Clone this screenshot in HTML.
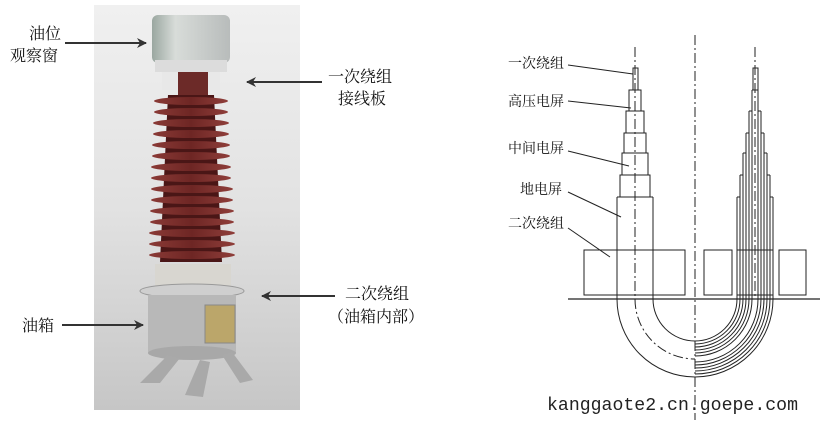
<!DOCTYPE html>
<html><head><meta charset="utf-8"><style>
body{margin:0;background:#fff;}
svg{display:block;}
</style></head><body>
<svg width="831" height="422" viewBox="0 0 831 422" xmlns="http://www.w3.org/2000/svg" font-family="'Liberation Serif','Noto Serif CJK SC',serif">
<defs>
<linearGradient id="bg" x1="0" y1="0" x2="0" y2="1">
<stop offset="0" stop-color="#f0f0f0"/><stop offset="0.5" stop-color="#e2e2e2"/><stop offset="1" stop-color="#c6c6c6"/>
</linearGradient>
<linearGradient id="shed" x1="0" y1="0" x2="1" y2="0">
<stop offset="0" stop-color="#8a3a36"/><stop offset="0.5" stop-color="#6e2624"/><stop offset="1" stop-color="#8f3e3a"/>
</linearGradient>
<linearGradient id="metal" x1="0" y1="0" x2="1" y2="0">
<stop offset="0" stop-color="#9aa7a0"/><stop offset="0.3" stop-color="#d8dcd9"/><stop offset="1" stop-color="#b8bcbb"/>
</linearGradient>
<marker id="ah" markerWidth="10" markerHeight="10" refX="9" refY="5" orient="auto" markerUnits="userSpaceOnUse"><path d="M0,0 L10,5 L0,10 L3,5 z" fill="#333"/></marker>
</defs>
<rect x="94" y="5" width="206" height="405" fill="url(#bg)"/>
<rect x="152" y="15" width="78" height="48" rx="6" fill="url(#metal)"/>
<rect x="155" y="60" width="72" height="12" fill="#dcdcdc"/>
<rect x="162" y="72" width="58" height="18" fill="#e8e8e8"/>
<rect x="178" y="72" width="30" height="30" fill="#6c2a28"/>
<path d="M168,95 L214,95 L222,262 L160,262 Z" fill="#4a1616"/>
<g fill="url(#shed)">
<ellipse cx="191" cy="101" rx="37" ry="4"/>
<ellipse cx="191" cy="112" rx="37" ry="4"/>
<ellipse cx="191" cy="123" rx="38" ry="4"/>
<ellipse cx="191" cy="134" rx="38" ry="4"/>
<ellipse cx="191" cy="145" rx="39" ry="4"/>
<ellipse cx="191" cy="156" rx="39" ry="4"/>
<ellipse cx="191" cy="167" rx="40" ry="4"/>
<ellipse cx="191" cy="178" rx="40" ry="4"/>
<ellipse cx="192" cy="189" rx="41" ry="4"/>
<ellipse cx="192" cy="200" rx="41" ry="4"/>
<ellipse cx="192" cy="211" rx="42" ry="4"/>
<ellipse cx="192" cy="222" rx="42" ry="4"/>
<ellipse cx="192" cy="233" rx="43" ry="4"/>
<ellipse cx="192" cy="244" rx="43" ry="4"/>
<ellipse cx="192" cy="255" rx="43" ry="4"/>
</g>
<rect x="155" y="264" width="76" height="22" fill="#d8d6d0"/>
<ellipse cx="192" cy="291" rx="52" ry="7" fill="#cfcfcf" stroke="#999"/>
<rect x="148" y="295" width="88" height="58" fill="#b8b8b8"/>
<ellipse cx="192" cy="353" rx="44" ry="7" fill="#a8a8a8"/>
<rect x="205" y="305" width="30" height="38" fill="#bba66a" stroke="#888"/>
<path d="M168,355 L140,383 L160,383 L180,358 Z M200,360 L185,395 L203,397 L210,362 Z M222,355 L240,383 L253,380 L232,352 Z" fill="#a9a9a9"/>
<g font-size="16" fill="#111">
<text x="29" y="39">油位</text>
<text x="10" y="61">观察窗</text>
<text x="328" y="82">一次绕组</text>
<text x="338" y="104">接线板</text>
<text x="345" y="299">二次绕组</text>
<text x="328" y="322">（油箱内部）</text>
<text x="22" y="331">油箱</text>
</g>
<g stroke="#333" stroke-width="2" marker-end="url(#ah)">
<line x1="65" y1="43" x2="146" y2="43"/>
<line x1="322" y1="82" x2="247" y2="82"/>
<line x1="335" y1="296" x2="262" y2="296"/>
<line x1="62" y1="325" x2="143" y2="325"/>
</g>
<g stroke="#222" stroke-width="1" fill="none">
<line x1="568" y1="299" x2="820" y2="299" stroke-width="1.3"/>
<line x1="695" y1="35" x2="695" y2="420" stroke-dasharray="10,3,2,3"/>
<line x1="635" y1="47" x2="635" y2="299" stroke-dasharray="10,3,2,3"/>
<line x1="755" y1="47" x2="755" y2="299" stroke-dasharray="10,3,2,3"/>
<rect x="633" y="68" width="5" height="22"/>
<rect x="629" y="90" width="12" height="21"/>
<rect x="626" y="111" width="18" height="22"/>
<rect x="624" y="133" width="22" height="20"/>
<rect x="622" y="153" width="26" height="22"/>
<rect x="620" y="175" width="30" height="22"/>
<path d="M617,197 H653 M617,197 V299 M653,197 V299"/>
<path d="M617,299 A78,78 0 0 0 695,377"/>
<path d="M653,299 A42,42 0 0 0 695,341"/>
<path d="M635,299 A60,60 0 0 0 695,359" stroke-dasharray="10,3,2,3"/>
<rect x="753" y="68" width="5" height="22"/>
<path d="M752,90 H758 M752,90 V299 M758,90 V299"/>
<path d="M749,111 V299 M761,111 V299 M746,133 V299 M764,133 V299 M743,153 V299 M767,153 V299 M740,175 V299 M770,175 V299 M737,197 V299 M773,197 V299"/>
<path d="M752,90 H758 M749,111 H752 M758,111 H761 M746,133 H749 M761,133 H764 M743,153 H746 M764,153 H767 M740,175 H743 M767,175 H770 M737,197 H740 M770,197 H773"/>
<path d="M737,299 A42,42 0 0 1 695,341 M740,299 A45,45 0 0 1 695,344 M743,299 A48,48 0 0 1 695,347 M746,299 A51,51 0 0 1 695,350 M749,299 A54,54 0 0 1 695,353 M752,299 A57,57 0 0 1 695,356 M758,299 A63,63 0 0 1 695,362 M761,299 A66,66 0 0 1 695,365 M764,299 A69,69 0 0 1 695,368 M767,299 A72,72 0 0 1 695,371 M770,299 A75,75 0 0 1 695,374 M773,299 A78,78 0 0 1 695,377"/>
<rect x="584" y="250" width="101" height="45"/>
<rect x="704" y="250" width="28" height="45"/>
<rect x="737" y="250" width="36" height="45"/>
<rect x="779" y="250" width="27" height="45"/>
<line x1="568" y1="65" x2="633" y2="74"/>
<line x1="568" y1="101" x2="631" y2="108"/>
<line x1="568" y1="151" x2="629" y2="166"/>
<line x1="568" y1="192" x2="621" y2="217"/>
<line x1="568" y1="228" x2="610" y2="257"/>
</g>
<g font-size="14" fill="#111">
<text x="508" y="68">一次绕组</text>
<text x="508" y="106">高压电屏</text>
<text x="508" y="153">中间电屏</text>
<text x="520" y="194">地电屏</text>
<text x="508" y="228">二次绕组</text>
</g>
<text x="547" y="410" font-family="'Liberation Mono',monospace" font-size="18" textLength="251" lengthAdjust="spacingAndGlyphs" fill="#222">kanggaote2.cn.goepe.com</text>
</svg>
</body></html>
